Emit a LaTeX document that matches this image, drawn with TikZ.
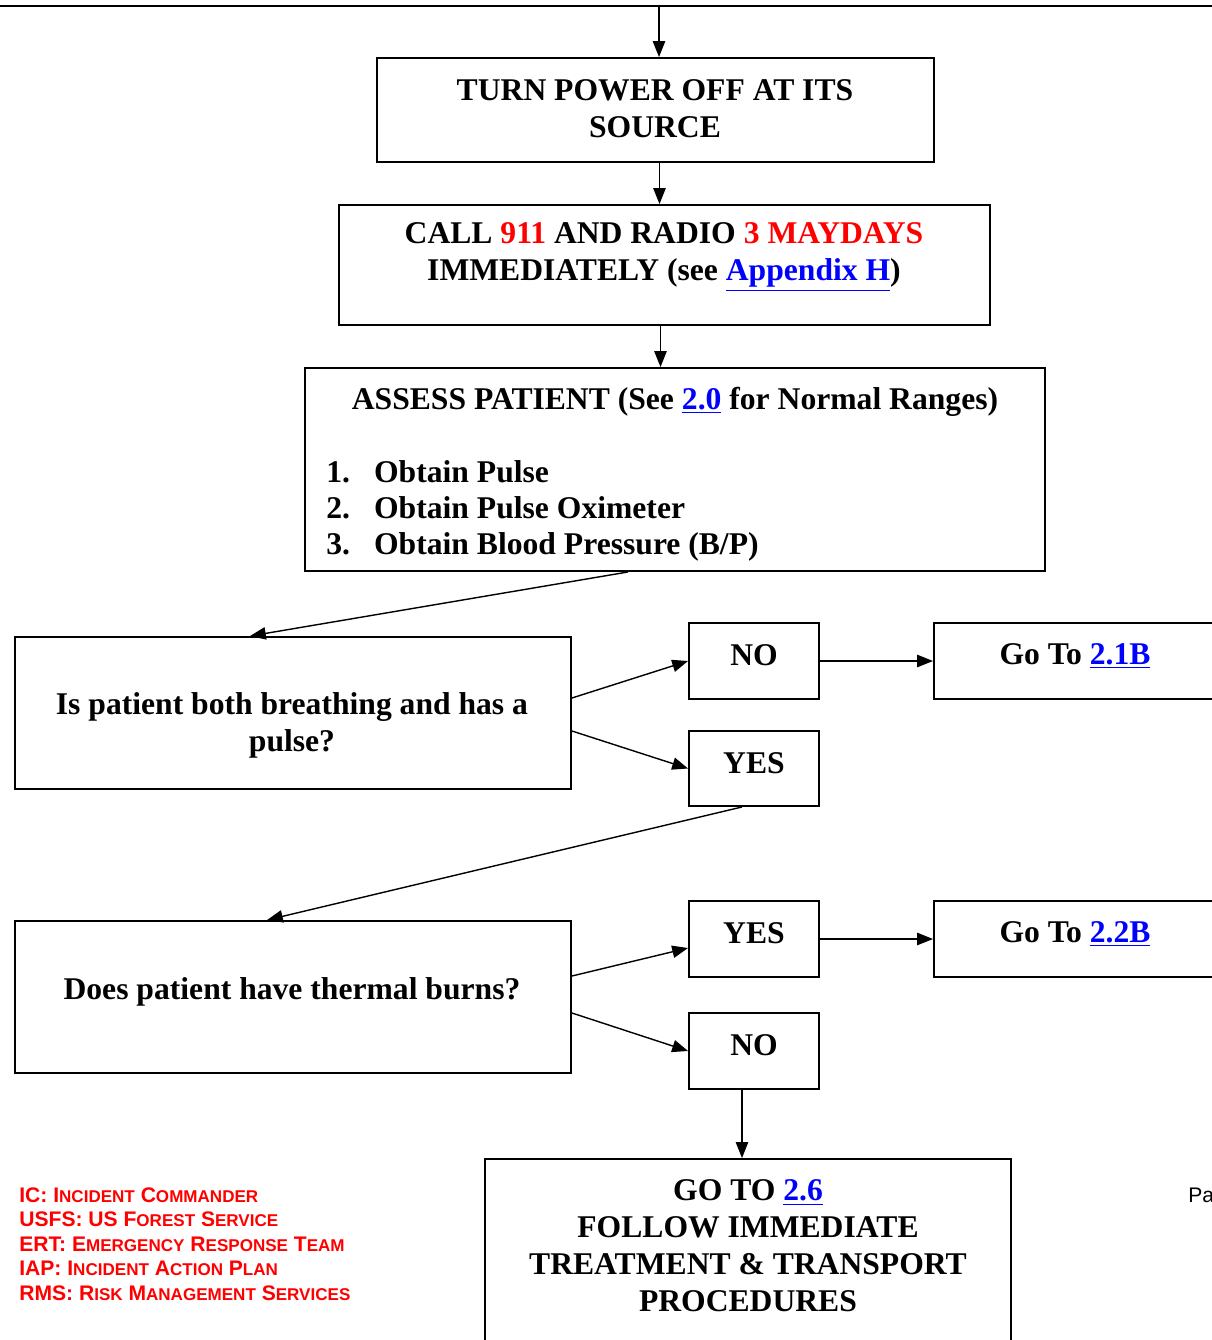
\documentclass[tikz,border=0pt]{standalone}
\usepackage{fontspec}
\setmainfont{Liberation Serif}
\newfontfamily\legendfont{Liberation Sans}
\usetikzlibrary{arrows.meta,calc}
\newcommand\pxu{0.02cm}
\newcommand\lnk[1]{\textcolor{blue}{\underline{#1}}}
\newcommand\smc[1]{{\fontsize{9.7}{10}\selectfont #1}}
\newcommand\itemno[1]{\makebox[27.2pt][l]{#1}}
\begin{document}
\begin{tikzpicture}[x=0.02cm,y=-0.02cm,
    box/.style={draw,line width=1.1pt,inner sep=0pt},
    txt/.style={font=\fontsize{18}{21}\selectfont\bfseries,align=center,inner sep=0pt},
    arr/.style={-{Triangle[length=9pt,width=7pt]},line width=0.8pt}]
    \useasboundingbox (0,0) rectangle (1212,1340);
    \clip (0,0) rectangle (1212,1340);
    %rule at the top of the page
    \coordinate (rulel) at (0,6);
    \coordinate (ruler) at (1212,6);
    \draw[line width=1.1pt] (rulel) -- (ruler);
    \coordinate (topin) at (659,7);
    %first three boxes
    \node[box,minimum width=557*\pxu,minimum height=104*\pxu] (power) at (655.5,110) {};
    \node[txt] (powert) at (655,109) {TURN POWER OFF AT ITS\\SOURCE};
    \node[box,minimum width=651*\pxu,minimum height=120*\pxu] (call) at (664.5,265) {};
    \node[txt] (callt) at (664,257) {CALL \textcolor{red}{911} AND RADIO \textcolor{red}{3 MAYDAYS}\\IMMEDIATELY (see \lnk{Appendix H})};
    \node[box,minimum width=740*\pxu,minimum height=203*\pxu] (assess) at (675,469.5) {};
    \node[txt] (assesst) at (675,402) {ASSESS PATIENT (See \lnk{2.0} for Normal Ranges)};
    \node[txt,align=left,anchor=west] (assessl) at (326,511) {\itemno{1.}Obtain Pulse\\[-0.5pt]\itemno{2.}Obtain Pulse Oximeter\\[-0.5pt]\itemno{3.}Obtain Blood Pressure (B/P)};
    \draw[arr] (topin) -- (topin |- power.north);
    \draw[arr] ($(power.south)+(4,0)$) coordinate (powout) -- (powout |- call.north);
    \draw[arr] ($(call.south)+(-4,0)$) coordinate (callout) -- (callout |- assess.north);
    %first question and its answers
    \node[box,minimum width=556*\pxu,minimum height=152*\pxu] (breath) at (293,713) {};
    \node[txt] (breatht) at (292,725) {Is patient both breathing and has a\\pulse?};
    \node[box,minimum width=130*\pxu,minimum height=76*\pxu] (no1) at (754,661) {};
    \node[txt] (no1t) at (754,655) {NO};
    \node[box,minimum width=130*\pxu,minimum height=75*\pxu] (yes1) at (754,768.5) {};
    \node[txt] (yes1t) at (754,763) {YES};
    \node[box,minimum width=282*\pxu,minimum height=76*\pxu] (goa) at (1075,661) {};
    \node[txt] (goat) at (1075,656) {Go To \lnk{2.1B}};
    \draw[arr] ($(assess.south)+(-47,0)$) -- ($(breath.north)+(-43,0)$);
    \draw[arr] ($(breath.east)+(0,-15)$) -- (no1.west);
    \draw[arr] ($(breath.east)+(0,18)$) -- (yes1.west);
    \draw[arr] (no1.east) -- (goa.west);
    %second question and its answers
    \node[box,minimum width=556*\pxu,minimum height=152*\pxu] (burns) at (293,997) {};
    \node[txt] (burnst) at (292,992) {Does patient have thermal burns?};
    \node[box,minimum width=130*\pxu,minimum height=76*\pxu] (yes2) at (754,939) {};
    \node[txt] (yes2t) at (754,933) {YES};
    \node[box,minimum width=282*\pxu,minimum height=76*\pxu] (gob) at (1075,939) {};
    \node[txt] (gobt) at (1075,934) {Go To \lnk{2.2B}};
    \node[box,minimum width=130*\pxu,minimum height=76*\pxu] (no2) at (754,1051) {};
    \node[txt] (no2t) at (754,1045) {NO};
    \draw[arr] ($(yes1.south)+(-12,0)$) -- ($(burns.north)+(-26,0)$);
    \draw[arr] ($(burns.east)+(0,-21)$) -- ($(yes2.west)+(0,9)$);
    \draw[arr] ($(burns.east)+(0,16)$) -- (no2.west);
    \draw[arr] (yes2.east) -- (gob.west);
    %last box
    \node[box,minimum width=526*\pxu,minimum height=241*\pxu] (final) at (748,1279.5) {};
    \node[txt] (finalt) at (748,1246) {GO TO \lnk{2.6}\\FOLLOW IMMEDIATE\\TREATMENT \& TRANSPORT\\PROCEDURES};
    \draw[arr] ($(no2.south)+(-12,0)$) coordinate (no2out) -- (no2out |- final.north);
    %abbreviations and page mark
    \node[anchor=west,align=left,inner sep=0pt,text=red,font=\legendfont\fontsize{12}{13.9}\selectfont\bfseries] (legend) at (19,1244)
      {IC: I\smc{NCIDENT} C\smc{OMMANDER}\\
       USFS: US F\smc{OREST} S\smc{ERVICE}\\
       ERT: E\smc{MERGENCY} R\smc{ESPONSE} T\smc{EAM}\\
       IAP: I\smc{NCIDENT} A\smc{CTION} P\smc{LAN}\\
       RMS: R\smc{ISK} M\smc{ANAGEMENT} S\smc{ERVICES}};
    \node[anchor=west,inner sep=0pt,font=\legendfont\fontsize{12}{14}\selectfont] (page) at (1188,1195) {Pa};
\end{tikzpicture}
\end{document}
